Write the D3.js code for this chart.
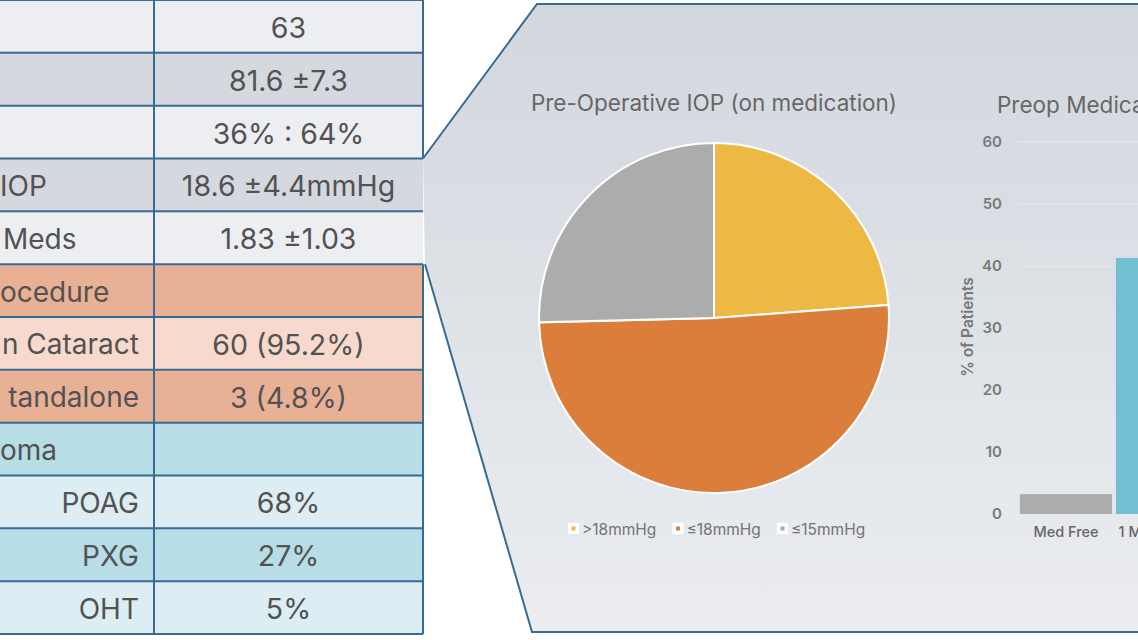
<!DOCTYPE html>
<html>
<head>
<meta charset="utf-8">
<script src="https://cdn.jsdelivr.net/npm/d3@7"></script>
<style>
  html, body { margin: 0; padding: 0; background: #fff; }
  svg { display: block; font-family: Inter, "Noto Sans", sans-serif; }
</style>
</head>
<body>
<svg id="svg" width="1138" height="640"></svg>
<script>
// table rows (left column is cropped in the original, only the visible part is kept)
var rowLabels = ["", "", "", "IOP", "Meds", "ocedure", "n Cataract", "tandalone", "oma", "POAG", "PXG", "OHT"];
var rowValues = ["63", "81.6 \u00b17.3", "36% : 64%", "18.6 \u00b14.4mmHg", "1.83 \u00b11.03", "", "60 (95.2%)", "3 (4.8%)", "", "68%", "27%", "5%"];
var rowGroups = ["summary", "summary", "summary", "summary", "summary", "procedure", "procedure", "procedure", "glaucoma", "glaucoma", "glaucoma", "glaucoma"];

// pie: pre-operative IOP (patients)
var pieLabels = [">18mmHg", "\u226418mmHg", "\u226415mmHg"];
var pieCounts = [15, 32, 16];

// bars: preop medications
var barCats = ["Med Free", "1 Medication"];
var barValues = [3.2, 41.3];
var yTicks = [0, 10, 20, 30, 40, 50, 60];

var svg = d3.select("#svg");
var W = 1138, H = 640;

//---------------- table ----------------
var palette = {
  summary: ["#eceef1", "#d5d9df"],
  procedure: ["#e8b196", "#f7dacd"],
  glaucoma: ["#b7dde6", "#dcedf3"]
};
var rowY = d3.scaleBand().domain(d3.range(rowValues.length)).range([0, 634]);
var colSplit = 154, tableRight = 423;
var lineColor = "#386b93";

var rows = svg.append("g").selectAll("g").data(rowValues).enter().append("g")
  .attr("transform", function(d, i) { return "translate(0," + rowY(i) + ")"; });

var posInGroup = rowGroups.map(function(g, i) { return rowGroups.slice(0, i).filter(function(x) { return x === g; }).length; });
var isSub = function(i) { return rowGroups[i] !== "summary" && posInGroup[i] > 0; };

rows.append("rect")
  .attr("x", 0).attr("y", 0)
  .attr("width", tableRight).attr("height", rowY.bandwidth())
  .attr("fill", function(d, i) { return palette[rowGroups[i]][posInGroup[i] % 2]; });

rows.append("text")
  .attr("x", colSplit + (tableRight - colSplit) / 2)
  .attr("y", rowY.bandwidth() / 2 + 1)
  .attr("text-anchor", "middle")
  .attr("dominant-baseline", "central")
  .attr("font-size", 28.5)
  .attr("fill", "#525252")
  .text(function(d) { return d; });

rows.append("text")
  .attr("x", function(d, i) { return isSub(i) ? 139 : (i === 4 ? 3 : 0); })
  .attr("y", rowY.bandwidth() / 2 + 1)
  .attr("text-anchor", function(d, i) { return isSub(i) ? "end" : "start"; })
  .attr("dominant-baseline", "central")
  .attr("font-size", 28)
  .attr("fill", "#525252")
  .text(function(d, i) { return rowLabels[i]; });

// grid lines of the table
var tlines = svg.append("g").attr("stroke", lineColor).attr("stroke-width", 2);
d3.range(rowValues.length + 1).forEach(function(i) {
  var y = i < rowValues.length ? rowY(i) : 634;
  tlines.append("line").attr("x1", 0).attr("x2", tableRight).attr("y1", y).attr("y2", y);
});
tlines.append("line").attr("x1", colSplit).attr("x2", colSplit).attr("y1", 0).attr("y2", 634);
tlines.append("line").attr("x1", tableRight).attr("x2", tableRight).attr("y1", 0).attr("y2", rowY(3));
tlines.append("line").attr("x1", tableRight).attr("x2", tableRight).attr("y1", rowY(5)).attr("y2", 634);

//---------------- callout panel ----------------
var defs = svg.append("defs");
var grad = defs.append("linearGradient").attr("id", "panelGrad")
  .attr("x1", 0).attr("y1", 0).attr("x2", 0).attr("y2", 1);
grad.append("stop").attr("offset", "0%").attr("stop-color", "#d2d7de");
grad.append("stop").attr("offset", "100%").attr("stop-color", "#ebedf0");

var panelPts = [[423, rowY(3)], [537, 4], [W + 5, 4], [W + 5, 632], [532, 632], [425, rowY(5)]];
svg.append("path")
  .attr("d", d3.line()(panelPts) + "Z")
  .attr("fill", "url(#panelGrad)");
svg.append("path")
  .attr("d", d3.line()(panelPts))
  .attr("fill", "none").attr("stroke", lineColor).attr("stroke-width", 2);

//---------------- pie ----------------
var pieColors = ["#edb944", "#dc7e3b", "#acacac"];
var cx = 714, cy = 318, R = 175;
var pie = d3.pie().sort(null).value(function(d) { return d; });
var arc = d3.arc().innerRadius(0).outerRadius(R);
var pieG = svg.append("g").attr("transform", "translate(" + cx + "," + cy + ")");
pieG.selectAll("path").data(pie(pieCounts)).enter().append("path")
  .attr("d", arc)
  .attr("fill", function(d, i) { return pieColors[i]; })
  .attr("stroke", "#fff").attr("stroke-width", 2);

svg.append("text")
  .attr("x", cx).attr("y", 111)
  .attr("text-anchor", "middle")
  .attr("font-size", 22.5)
  .attr("fill", "#676767")
  .text("Pre-Operative IOP (on medication)");

var legX = d3.scalePoint().domain(pieLabels).range([568, 777]);
var leg = svg.append("g").selectAll("g").data(pieLabels).enter().append("g")
  .attr("transform", function(d) { return "translate(" + legX(d) + ",528)"; });
leg.append("rect").attr("x", 0).attr("y", -5).attr("width", 11).attr("height", 11).attr("fill", "#fff");
leg.append("rect").attr("x", 3.5).attr("y", -1.5).attr("width", 4).attr("height", 4)
  .attr("fill", function(d, i) { return pieColors[i]; });
leg.append("text")
  .attr("x", 14).attr("y", 1)
  .attr("dominant-baseline", "central")
  .attr("font-size", 15.5)
  .attr("fill", "#747474")
  .text(function(d) { return d; });

//---------------- bar chart ----------------
var y = d3.scaleLinear().domain([0, 60]).range([514, 142]);
var x = d3.scaleBand().domain(barCats).range([1016, 1212]).padding(0.04);
var barColors = ["#acacac", "#72bfd3"];

var grid = svg.append("g");
grid.selectAll("line").data(yTicks).enter().append("line")
  .attr("x1", 1018).attr("x2", W)
  .attr("y1", function(d) { return y(d); }).attr("y2", function(d) { return y(d); })
  .attr("stroke", "#e6e8ec").attr("stroke-width", 1);

var yAxis = svg.append("g").attr("transform", "translate(1010,0)")
  .call(d3.axisLeft(y).tickValues(yTicks).tickSize(0).tickPadding(8));
yAxis.select(".domain").remove();
yAxis.selectAll("text").attr("font-size", 15).attr("font-weight", 600)
  .attr("fill", "#7a7a7a").attr("font-family", "Inter, sans-serif");

svg.append("g").selectAll("rect").data(barValues).enter().append("rect")
  .attr("x", function(d, i) { return x(barCats[i]); })
  .attr("y", function(d) { return y(d); })
  .attr("width", x.bandwidth())
  .attr("height", function(d) { return y(0) - y(d); })
  .attr("fill", function(d, i) { return barColors[i]; });

var xAxis = svg.append("g").attr("transform", "translate(0,519)")
  .call(d3.axisBottom(x).tickSize(0).tickPadding(8));
xAxis.select(".domain").remove();
xAxis.selectAll("text").attr("font-size", 14.5).attr("font-weight", 500)
  .attr("fill", "#666").attr("font-family", "Inter, sans-serif");

svg.append("text")
  .attr("transform", "translate(973,327) rotate(-90)")
  .attr("text-anchor", "middle")
  .attr("font-size", 15.5)
  .attr("font-weight", 600)
  .attr("fill", "#777")
  .text("% of Patients");

svg.append("text")
  .attr("x", 997).attr("y", 113)
  .attr("font-size", 22.5)
  .attr("fill", "#676767")
  .text("Preop Medications");
</script>
</body>
</html>
